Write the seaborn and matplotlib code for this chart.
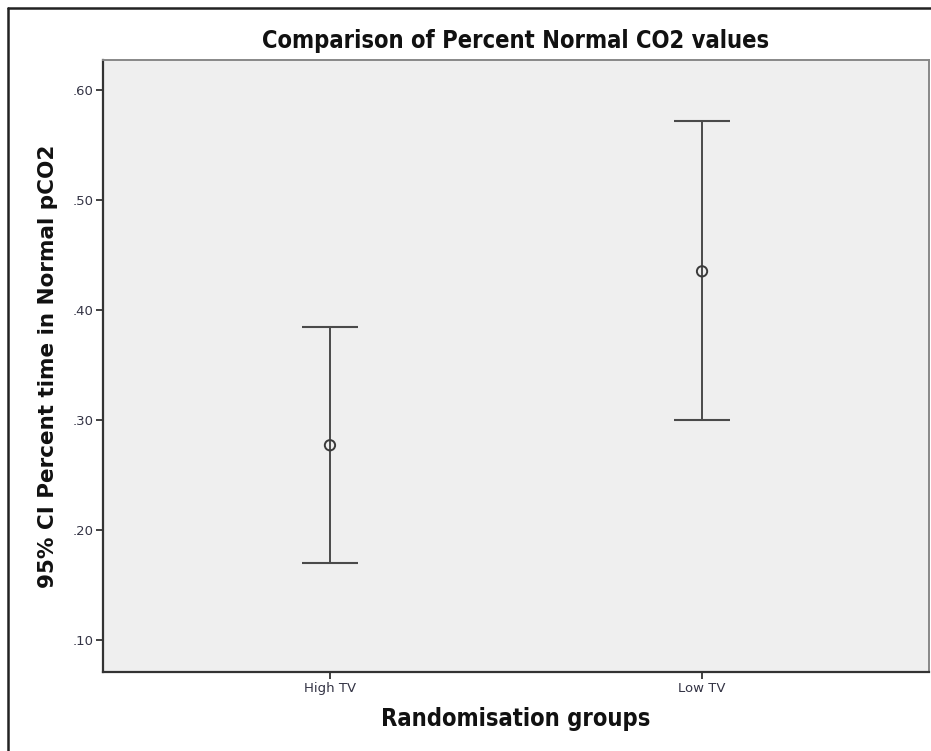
import matplotlib
matplotlib.use("Agg")
import matplotlib.pyplot as plt
from matplotlib.lines import Line2D
import seaborn as sns
import pandas as pd
import numpy as np

# summary values
groups = ["High TV", "Low TV"]
means = [0.277, 0.435]
ci_low = [0.170, 0.300]
ci_high = [0.384, 0.572]
y_ticks = [0.10, 0.20, 0.30, 0.40, 0.50, 0.60]
y_tick_labels = [".10", ".20", ".30", ".40", ".50", ".60"]


def run_plot():
    sns.set_theme(style="white")
    plt.rcParams["font.family"] = ["DejaVu Sans"]

    df = pd.DataFrame({"group": groups, "mean": means, "lo": ci_low, "hi": ci_high})

    fig = plt.figure(figsize=(9.31, 7.51), dpi=100)
    ax = fig.add_axes([103 / 931, 79 / 751, 826 / 931, 612 / 751])
    ax.set_facecolor("#efefef")

    sns.scatterplot(data=df, x="group", y="mean", ax=ax, marker="o", s=55,
                    facecolor="none", edgecolor="#3a3a3a", linewidth=1.4, zorder=3)
    yerr = np.array([df["mean"] - df["lo"], df["hi"] - df["mean"]])
    ax.errorbar(np.arange(len(df)), df["mean"], yerr=yerr, fmt="none",
                ecolor="#4a4a4a", elinewidth=1.4, capsize=20, capthick=1.5, zorder=2)

    ax.set_xlim(-0.61, 1.61)
    ax.set_ylim(0.071, 0.627)
    ax.set_yticks(y_ticks)
    ax.set_yticklabels(y_tick_labels)
    ax.tick_params(axis="both", which="both", direction="out", length=5, width=1.3,
                   color="#333333", labelsize=9.5, labelcolor="#333344", pad=2,
                   left=True, bottom=True)

    for side in ["left", "bottom"]:
        ax.spines[side].set_color("#333333")
        ax.spines[side].set_linewidth(1.6)
    for side in ["top", "right"]:
        ax.spines[side].set_color("#888888")
        ax.spines[side].set_linewidth(1.4)

    ax.set_title("Comparison of Percent Normal CO2 values", fontsize=17,
                 fontweight="bold", fontstretch="condensed", color="#111111", pad=9)
    ax.set_xlabel("Randomisation groups", fontsize=17, fontweight="bold",
                  fontstretch="condensed", color="#111111", labelpad=9)
    ax.set_ylabel("95% CI Percent time in Normal pCO2", fontsize=15.5,
                  fontweight="bold", color="#111111", labelpad=10)

    # outer frame of the exported picture
    fig.add_artist(Line2D([8 / 931, 8 / 931], [0, 1 - 8 / 751], transform=fig.transFigure,
                          color="#222222", linewidth=1.8))
    fig.add_artist(Line2D([8 / 931, 1], [1 - 8 / 751, 1 - 8 / 751], transform=fig.transFigure,
                          color="#222222", linewidth=1.8))

    fig.savefig("out.png", dpi=100, facecolor="white")
    plt.close(fig)


if __name__ == "__main__":
    run_plot()
